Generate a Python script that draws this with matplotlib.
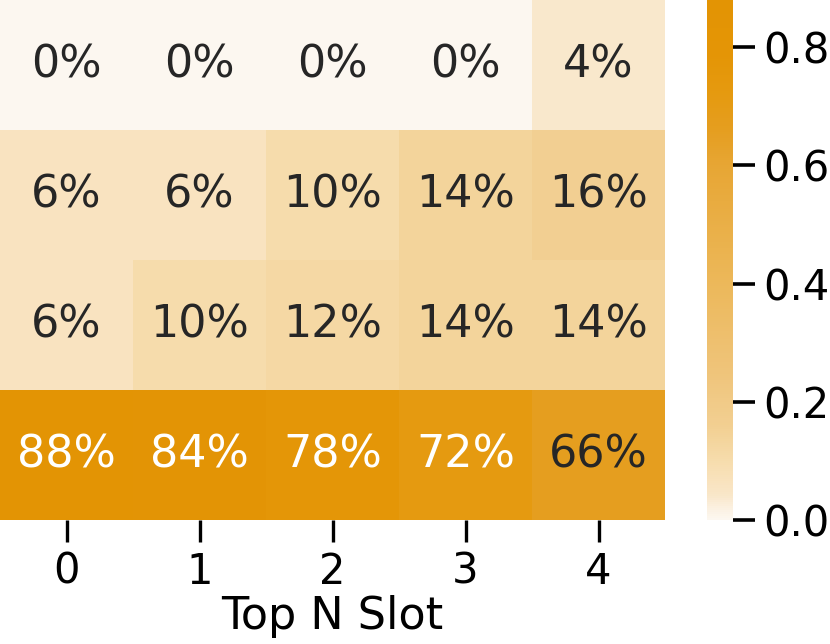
import numpy as np
import matplotlib
matplotlib.use("Agg")
import matplotlib.pyplot as plt
import seaborn as sns
from matplotlib.colors import LinearSegmentedColormap

# share of picks per row (rows top -> bottom), one column per Top N slot
slots = [0, 1, 2, 3, 4]
row_a = [0.00, 0.00, 0.00, 0.00, 0.04]
row_b = [0.06, 0.06, 0.10, 0.14, 0.16]
row_c = [0.06, 0.10, 0.12, 0.14, 0.14]
row_d = [0.88, 0.84, 0.78, 0.72, 0.66]
data = np.array([row_a, row_b, row_c, row_d])

vmax = data.max()

# light -> orange colormap (steps)
cm_stops = [0.0, 0.02, 0.04, 0.06, 0.10, 0.16, 0.25, 0.40, 0.60, 0.66, 0.72, 0.79, 0.88]
cm_cols = ["#fcf7f0", "#fbf0e0", "#f9e7ca", "#f9e3bf", "#f6dcac", "#f2cf91", "#efc47a",
           "#ecb85a", "#e7a634", "#e59e20", "#e59a10", "#e49506", "#e39404"]
cmap = LinearSegmentedColormap.from_list(
    "light_orange", [(s / vmax, c) for s, c in zip(cm_stops, cm_cols)])

fig = plt.figure(figsize=(8.3, 6.44), dpi=100)
ax = fig.add_axes([0.0, 1 - 520 / 644, 665 / 830, 520 / 644])
cax = fig.add_axes([707 / 830, 1 - 520 / 644, 26 / 830, 520 / 644])

sns.heatmap(data, ax=ax, cbar_ax=cax, cmap=cmap, vmin=0, vmax=vmax,
            annot=True, fmt=".0%", annot_kws={"size": 32},
            xticklabels=slots, yticklabels=False)

ax.set_xlabel("Top N Slot", fontsize=32, labelpad=2)
ax.tick_params(axis="x", labelsize=30, length=16, width=2.4, pad=6, rotation=0)
ax.tick_params(axis="y", left=False)

cax.set_yticks([0.0, 0.2, 0.4, 0.6, 0.8])
cax.tick_params(labelsize=30, length=16, width=2.6, pad=6)
cax.yaxis.set_major_formatter(matplotlib.ticker.FormatStrFormatter("%.1f"))
for s in cax.spines.values():
    s.set_visible(False)

fig.savefig("out.png", dpi=100)
